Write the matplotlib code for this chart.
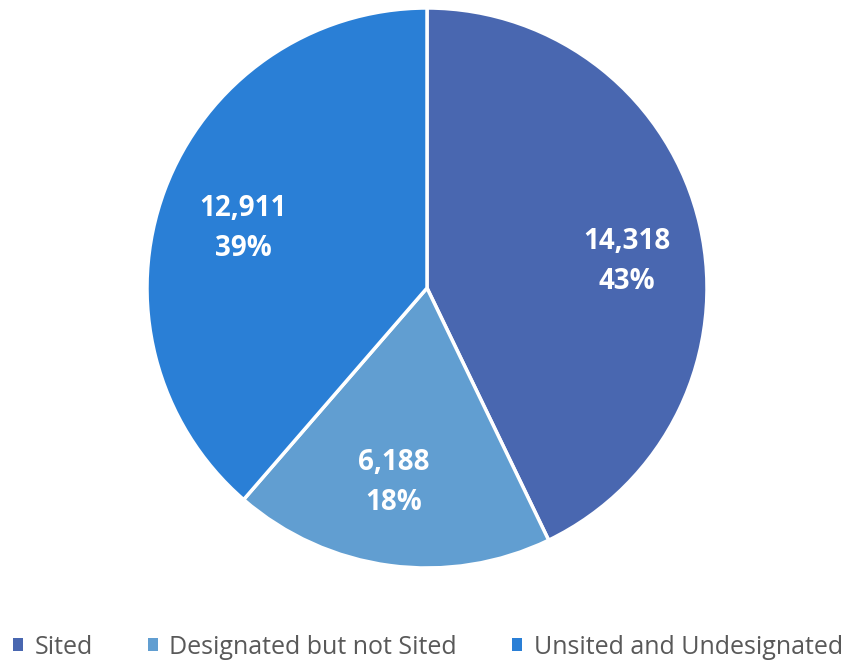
import matplotlib.pyplot as plt
from matplotlib.patches import Patch

plt.rcParams["font.family"] = ["Open Sans", "DejaVu Sans"]

categories = ["Sited", "Designated but not Sited", "Unsited and Undesignated"]
counts = [14318, 6188, 12911]
percents = [43, 18, 39]
colors = ["#4967B0", "#619ED1", "#2A7FD6"]
# label centres in pie-radius units, as placed in the source chart
label_pos = [(0.714, 0.093), (-0.118, -0.693), (-0.657, 0.211)]

W, H = 847, 661
fig = plt.figure(figsize=(W / 100, H / 100), dpi=100)
ax = fig.add_axes([147 / W, (H - 568) / H, 560 / W, 560 / H])

wedges, _ = ax.pie(
    counts,
    colors=colors,
    startangle=90,
    counterclock=False,
    wedgeprops=dict(edgecolor="white", linewidth=2.5),
)
for n, p, (x, y) in zip(counts, percents, label_pos):
    ax.text(x, y, f"{n:,}\n{p}%", ha="center", va="center", color="white",
            fontsize=20, fontweight="bold", linespacing=1.5)

ax.set_xlim(-1.0, 1.0)
ax.set_ylim(-1.0, 1.0)
ax.set_aspect("equal")
ax.axis("off")

handles = [Patch(facecolor=c, edgecolor="none") for c in colors]
fig.legend(
    handles,
    categories,
    loc="center",
    bbox_to_anchor=(0.505, 14 / H),
    ncol=3,
    frameon=False,
    fontsize=18,
    labelcolor="#595959",
    handlelength=0.42,
    handleheight=0.42,
    handletextpad=0.45,
    columnspacing=2.2,
)

fig.savefig("out.png", dpi=100)
